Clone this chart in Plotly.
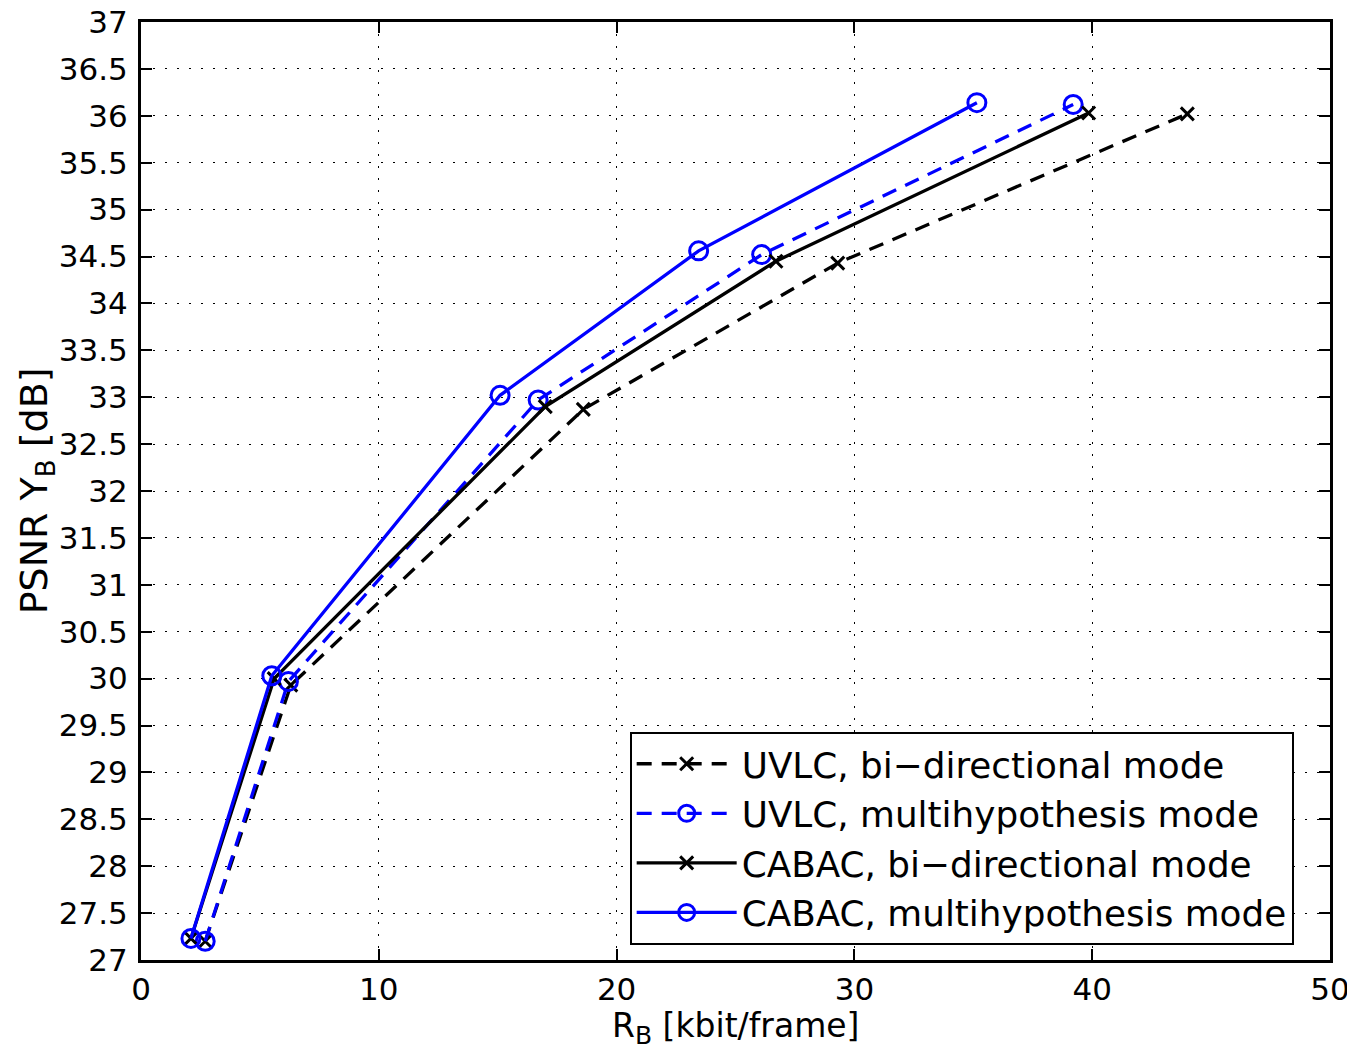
import plotly.graph_objects as go

# Data
uvlc_bi_x = [2.7, 6.3, 18.6, 29.3, 44.0]
uvlc_bi_y = [27.2, 29.93, 32.87, 34.43, 36.02]
uvlc_mh_x = [2.7, 6.2, 16.7, 26.1, 39.2]
uvlc_mh_y = [27.2, 29.97, 32.97, 34.52, 36.12]
cabac_bi_x = [2.1, 5.6, 17.0, 26.7, 39.85]
cabac_bi_y = [27.23, 30.0, 32.9, 34.45, 36.03]
cabac_mh_x = [2.1, 5.5, 15.1, 23.45, 35.15]
cabac_mh_y = [27.23, 30.03, 33.02, 34.56, 36.14]

names = ["UVLC, bi\u2212directional mode", "UVLC, multihypothesis mode",
         "CABAC, bi\u2212directional mode", "CABAC, multihypothesis mode"]

x_ticks = [0, 10, 20, 30, 40, 50]
y_ticks = [27 + 0.5 * i for i in range(21)]
y_ticklabels = [("%g" % v) for v in y_ticks]

FONT = "DejaVu Sans, Liberation Sans, Arial, sans-serif"

fig = go.Figure()
series = [
    (uvlc_bi_x, uvlc_bi_y, "black", "dash", "x-thin", 13),
    (uvlc_mh_x, uvlc_mh_y, "#0000FF", "dash", "circle-open", 18),
    (cabac_bi_x, cabac_bi_y, "black", "solid", "x-thin", 13),
    (cabac_mh_x, cabac_mh_y, "#0000FF", "solid", "circle-open", 18),
]
for (xs, ys, c, d, sym, sz), nm in zip(series, names):
    fig.add_trace(go.Scatter(
        x=xs, y=ys, name=nm, mode="lines+markers",
        line=dict(color=c, width=3.3, dash=("15px,10px" if d == "dash" else "solid")),
        marker=dict(symbol=sym, size=sz, color=c, line=dict(color=c, width=3)),
    ))

axis_common = dict(
    showline=True, linecolor="black", linewidth=3, mirror="ticks",
    ticks="inside", ticklen=11, tickwidth=2, tickcolor="black",
    showgrid=True, gridcolor="black", gridwidth=1, griddash="2px,10px",
    zeroline=False, automargin=False, ticklabeloverflow="allow",
    tickfont=dict(family=FONT, size=31, color="black"),
)

fig.update_xaxes(range=[0, 50], tickvals=x_ticks, **axis_common)
fig.update_yaxes(range=[27, 37], tickvals=y_ticks, ticktext=y_ticklabels,
                 ticklabelstandoff=4, **axis_common)

fig.add_annotation(
    text="R<sub><span style='font-size:25px'>B</span></sub> [kbit/frame]",
    xref="paper", yref="paper",
    x=0.5, y=-0.073, xanchor="center", yanchor="middle", showarrow=False,
    font=dict(family=FONT, size=33, color="black"),
)
fig.add_annotation(
    text="PSNR Y<sub><span style='font-size:26px'>B</span></sub> [dB]",
    xref="paper", yref="paper",
    x=-0.088, y=0.5, xanchor="center", yanchor="middle", showarrow=False,
    textangle=-90, font=dict(family=FONT, size=38, color="black"),
)

fig.update_layout(
    width=1339, height=1041,
    margin=dict(l=133, r=17, t=14, b=89),
    plot_bgcolor="white", paper_bgcolor="white",
    showlegend=True,
    legend=dict(
        x=0.411, y=0.016, xanchor="left", yanchor="bottom",
        bgcolor="white", bordercolor="black", borderwidth=2,
        font=dict(family=FONT, size=35.8, color="black"),
        itemwidth=100, tracegroupgap=0,
    ),
)

fig.write_html("out.html")
